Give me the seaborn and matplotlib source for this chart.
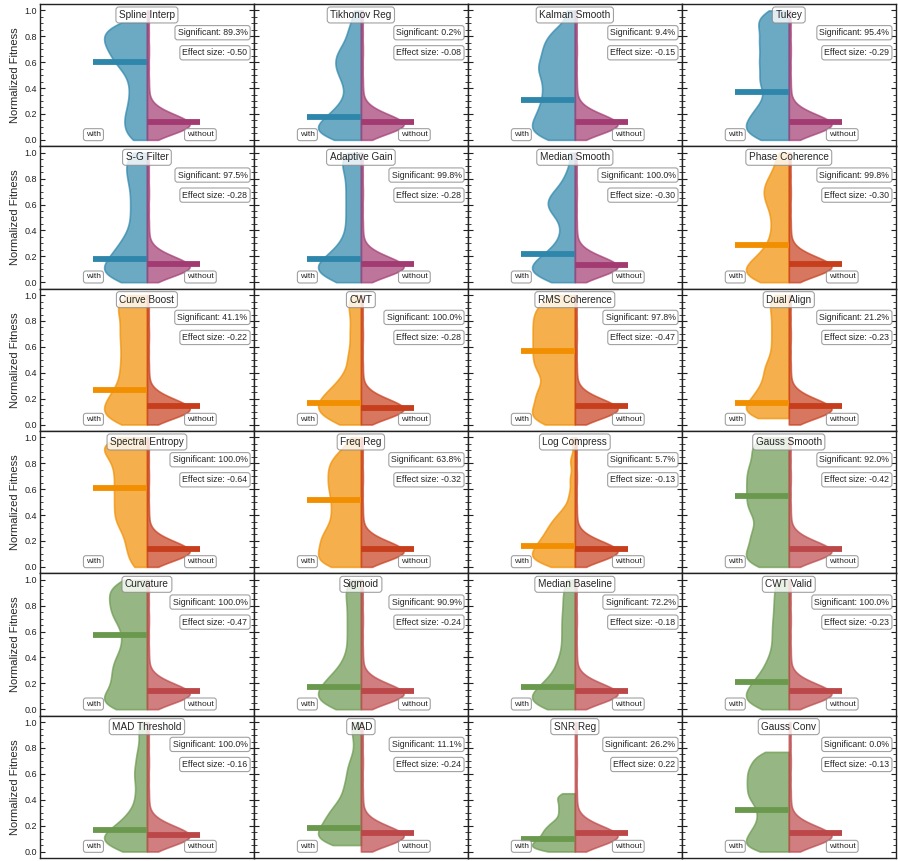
import numpy as np
import pandas as pd
import matplotlib
matplotlib.use("Agg")
import matplotlib.pyplot as plt
from matplotlib.ticker import AutoMinorLocator, MultipleLocator
import seaborn as sns

# ---------------------------------------------------------------- data
methods = [
    "Spline Interp", "Tikhonov Reg", "Kalman Smooth", "Tukey",
    "S-G Filter", "Adaptive Gain", "Median Smooth", "Phase Coherence",
    "Curve Boost", "CWT", "RMS Coherence", "Dual Align",
    "Spectral Entropy", "Freq Reg", "Log Compress", "Gauss Smooth",
    "Curvature", "Sigmoid", "Median Baseline", "CWT Valid",
    "MAD Threshold", "MAD", "SNR Reg", "Gauss Conv",
]
families = ["blue"] * 7 + ["orange"] * 8 + ["green"] * 9
significant = [89.3, 0.2, 9.4, 95.4,
               97.5, 99.8, 100.0, 99.8,
               41.1, 100.0, 97.8, 21.2,
               100.0, 63.8, 5.7, 92.0,
               100.0, 90.9, 72.2, 100.0,
               100.0, 11.1, 26.2, 0.0]
effect_size = [-0.50, -0.08, -0.15, -0.29,
               -0.28, -0.28, -0.30, -0.30,
               -0.22, -0.28, -0.47, -0.23,
               -0.64, -0.32, -0.13, -0.42,
               -0.47, -0.24, -0.18, -0.23,
               -0.16, -0.24, 0.22, -0.13]
with_medians = [0.60, 0.18, 0.31, 0.37,
                0.18, 0.18, 0.22, 0.29,
                0.27, 0.17, 0.57, 0.17,
                0.61, 0.52, 0.16, 0.55,
                0.57, 0.17, 0.17, 0.21,
                0.17, 0.18, 0.10, 0.32]
without_medians = [0.14, 0.14, 0.14, 0.14,
                   0.14, 0.14, 0.13, 0.14,
                   0.14, 0.13, 0.14, 0.14,
                   0.14, 0.14, 0.14, 0.14,
                   0.14, 0.14, 0.14, 0.14,
                   0.13, 0.14, 0.14, 0.14]

# normalized fitness of the runs that used each step
spline_interp = [0.00, 0.04, 0.08, 0.12, 0.16, 0.19, 0.24, 0.28, 0.33, 0.38,
                 0.43, 0.48, 0.52, 0.56, 0.59, 0.61, 0.64, 0.66, 0.69, 0.71,
                 0.73, 0.75, 0.77, 0.79, 0.81, 0.83, 0.85, 0.87, 0.89, 0.91]
tikhonov_reg = [0.00, 0.02, 0.035, 0.05, 0.065, 0.08, 0.095, 0.11, 0.13, 0.15,
                0.17, 0.19, 0.22, 0.25, 0.28, 0.33, 0.38, 0.43, 0.47, 0.51,
                0.54, 0.57, 0.60, 0.63, 0.66, 0.69, 0.73, 0.78, 0.84, 0.90, 1.00]
kalman_smooth = [0.00, 0.02, 0.045, 0.07, 0.09, 0.115, 0.14, 0.165, 0.19, 0.22,
                 0.25, 0.28, 0.31, 0.345, 0.38, 0.41, 0.445, 0.48, 0.51, 0.54,
                 0.565, 0.59, 0.625, 0.655, 0.69, 0.72, 0.755, 0.79,
                 0.83, 0.88, 1.00]
tukey = [0.00, 0.02, 0.04, 0.065, 0.085, 0.11, 0.135, 0.16, 0.185, 0.22,
         0.25, 0.28, 0.33, 0.38, 0.43, 0.455, 0.48, 0.53, 0.58, 0.605,
         0.63, 0.68, 0.73, 0.755, 0.78, 0.83, 0.88, 0.905, 0.93, 0.97, 1.00]
sg_filter = [0.00, 0.02, 0.04, 0.055, 0.07, 0.085, 0.10, 0.12, 0.14, 0.16,
             0.18, 0.20, 0.225, 0.25, 0.275, 0.305, 0.34, 0.375, 0.42, 0.47,
             0.52, 0.57, 0.62, 0.67, 0.72, 0.77, 0.81, 0.85, 0.89, 0.93,
             0.97, 1.00]
adaptive_gain = [0.00, 0.02, 0.04, 0.055, 0.07, 0.085, 0.10, 0.115, 0.13, 0.145,
                 0.16, 0.18, 0.20, 0.225, 0.25, 0.28, 0.32, 0.36, 0.41, 0.46,
                 0.51, 0.56, 0.61, 0.66, 0.71, 0.76, 0.81, 0.86, 0.90, 0.94,
                 0.97, 1.00]
median_smooth = [0.00, 0.02, 0.04, 0.055, 0.07, 0.085, 0.10, 0.115, 0.13, 0.145,
                 0.16, 0.18, 0.20, 0.225, 0.25, 0.28, 0.32, 0.37, 0.42, 0.47,
                 0.52, 0.545, 0.57, 0.595, 0.62, 0.645, 0.67, 0.695, 0.74, 0.79,
                 0.87, 1.00]
phase_coherence = [0.00, 0.015, 0.03, 0.045, 0.065, 0.085, 0.10, 0.12, 0.14, 0.16,
                   0.18, 0.21, 0.245, 0.28, 0.32, 0.37, 0.42, 0.47, 0.52, 0.57,
                   0.61, 0.645, 0.68, 0.71, 0.745, 0.78, 0.82, 0.87, 0.94, 1.00]
curve_boost = [0.00, 0.02, 0.04, 0.06, 0.08, 0.10, 0.12, 0.14, 0.16, 0.18,
               0.205, 0.23, 0.255, 0.28, 0.31, 0.345, 0.38, 0.41, 0.445, 0.48,
               0.515, 0.55, 0.585, 0.62, 0.655, 0.69, 0.72, 0.755, 0.79, 0.825,
               0.86, 0.89, 0.92, 0.95, 0.98, 1.00]
cwt = [0.00, 0.02, 0.04, 0.06, 0.075, 0.09, 0.105, 0.12, 0.135, 0.15,
       0.165, 0.18, 0.195, 0.21, 0.23, 0.25, 0.27, 0.29, 0.32, 0.35,
       0.38, 0.43, 0.48, 0.53, 0.58, 0.65, 0.71, 0.77, 0.84, 0.90,
       0.95, 1.00]
rms_coherence = [0.00, 0.025, 0.05, 0.075, 0.11, 0.145, 0.18, 0.22, 0.25, 0.28,
                 0.33, 0.38, 0.42, 0.45, 0.48, 0.52, 0.55, 0.58, 0.62, 0.65,
                 0.68, 0.72, 0.75, 0.78, 0.82, 0.85, 0.88, 0.92, 0.96, 1.00]
dual_align = [0.05, 0.062, 0.075, 0.088, 0.10, 0.12, 0.14, 0.16, 0.18, 0.205,
              0.23, 0.255, 0.28, 0.31, 0.35, 0.38, 0.42, 0.45, 0.48, 0.53,
              0.58, 0.63, 0.68, 0.73, 0.78, 0.83, 0.88, 0.93, 0.97, 1.00]
spectral_entropy = [0.00, 0.06, 0.12, 0.17, 0.22, 0.27, 0.31, 0.345, 0.38, 0.41,
                    0.445, 0.48, 0.51, 0.545, 0.58, 0.61, 0.645, 0.68, 0.71, 0.745,
                    0.78, 0.81, 0.84, 0.87, 0.895, 0.92, 0.94, 0.96, 0.98, 1.00]
freq_reg = [0.00, 0.015, 0.03, 0.05, 0.075, 0.10, 0.125, 0.15, 0.175, 0.20,
            0.225, 0.25, 0.275, 0.305, 0.34, 0.375, 0.41, 0.445, 0.48, 0.515,
            0.55, 0.585, 0.615, 0.645, 0.675, 0.71, 0.74, 0.77, 0.80, 0.835,
            0.87, 0.915, 1.00]
log_compress = [0.00, 0.015, 0.03, 0.045, 0.06, 0.07, 0.08, 0.09, 0.105, 0.12,
                0.135, 0.15, 0.165, 0.18, 0.195, 0.21, 0.23, 0.25, 0.27, 0.29,
                0.31, 0.335, 0.36, 0.385, 0.42, 0.47, 0.56, 0.68, 0.82, 1.00]
gauss_smooth = [0.00, 0.025, 0.05, 0.075, 0.11, 0.145, 0.18, 0.22, 0.255, 0.285,
                0.33, 0.38, 0.42, 0.45, 0.48, 0.52, 0.55, 0.58, 0.62, 0.65,
                0.68, 0.72, 0.75, 0.78, 0.82, 0.86, 0.90, 0.94, 0.97, 1.00]
curvature = [0.00, 0.02, 0.04, 0.06, 0.08, 0.11, 0.145, 0.18, 0.215, 0.25,
             0.285, 0.32, 0.355, 0.39, 0.43, 0.48, 0.53, 0.58, 0.63, 0.68,
             0.71, 0.745, 0.78, 0.81, 0.845, 0.88, 0.91, 0.94, 0.97, 1.00]
sigmoid = [0.00, 0.015, 0.03, 0.045, 0.06, 0.075, 0.09, 0.105, 0.12, 0.135,
           0.15, 0.165, 0.18, 0.20, 0.22, 0.24, 0.26, 0.28, 0.31, 0.345,
           0.38, 0.42, 0.47, 0.52, 0.57, 0.62, 0.67, 0.72, 0.77, 0.82,
           0.87, 0.91, 0.955, 1.00]
median_baseline = [0.00, 0.012, 0.025, 0.038, 0.05, 0.062, 0.075, 0.088, 0.10, 0.117,
                   0.133, 0.15, 0.167, 0.183, 0.20, 0.225, 0.25, 0.275, 0.31, 0.345,
                   0.38, 0.42, 0.47, 0.52, 0.57, 0.62, 0.67, 0.72, 0.77, 0.83,
                   0.88, 0.94, 1.00]
cwt_valid = [0.00, 0.016, 0.033, 0.05, 0.066, 0.083, 0.10, 0.12, 0.14, 0.16,
             0.18, 0.20, 0.225, 0.25, 0.275, 0.31, 0.345, 0.38, 0.42, 0.47,
             0.52, 0.57, 0.62, 0.67, 0.72, 0.78, 0.83, 0.89, 0.95, 1.00]
mad_threshold = [0.00, 0.015, 0.03, 0.045, 0.058, 0.07, 0.082, 0.094, 0.106, 0.118,
                 0.13, 0.143, 0.157, 0.172, 0.188, 0.21, 0.235, 0.26, 0.285, 0.32,
                 0.37, 0.42, 0.47, 0.53, 0.58, 0.62, 0.67, 0.73, 0.78, 0.86,
                 0.94, 1.00]
mad = [0.05, 0.063, 0.076, 0.089, 0.10, 0.117, 0.133, 0.15, 0.167, 0.183,
       0.20, 0.22, 0.24, 0.26, 0.28, 0.30, 0.325, 0.35, 0.375, 0.41,
       0.45, 0.49, 0.53, 0.58, 0.63, 0.68, 0.75, 0.85, 0.94, 1.00]
snr_reg = [0.00, 0.008, 0.017, 0.025, 0.033, 0.042, 0.05, 0.06, 0.07, 0.08,
           0.09, 0.10, 0.112, 0.125, 0.138, 0.15, 0.162, 0.175, 0.188, 0.205,
           0.22, 0.235, 0.26, 0.285, 0.31, 0.335, 0.36, 0.385, 0.41, 0.43, 0.45]
gauss_conv = [0.00, 0.02, 0.04, 0.06, 0.08, 0.11, 0.135, 0.16, 0.185, 0.22,
              0.255, 0.285, 0.32, 0.355, 0.385, 0.41, 0.435, 0.46, 0.485, 0.51,
              0.535, 0.56, 0.585, 0.61, 0.635, 0.66, 0.685, 0.72, 0.75, 0.77]

with_runs = [spline_interp, tikhonov_reg, kalman_smooth, tukey,
             sg_filter, adaptive_gain, median_smooth, phase_coherence,
             curve_boost, cwt, rms_coherence, dual_align,
             spectral_entropy, freq_reg, log_compress, gauss_smooth,
             curvature, sigmoid, median_baseline, cwt_valid,
             mad_threshold, mad, snr_reg, gauss_conv]

# normalized fitness of the runs without the step
without_runs = [0.00, 0.015, 0.027, 0.036, 0.043, 0.049,
                0.055, 0.06, 0.065, 0.07, 0.074, 0.078, 0.082, 0.086, 0.09, 0.094, 0.098,
                0.101, 0.104, 0.107, 0.11, 0.113, 0.116, 0.119, 0.122, 0.125, 0.128,
                0.131, 0.134, 0.137, 0.141, 0.145, 0.149,
                0.153, 0.157, 0.161, 0.165, 0.169, 0.173, 0.178, 0.183, 0.188, 0.193, 0.198,
                0.205, 0.213, 0.222, 0.232, 0.244, 0.26, 0.28,
                0.32, 0.39, 0.47, 0.56, 0.65, 0.73, 0.82, 0.91, 1.00]

palettes = {
    "blue": ("#2E86AB", "#A23B72"),
    "orange": ("#F18F01", "#C73E1D"),
    "green": ("#6A994E", "#BC4749"),
}

# ---------------------------------------------------------------- style
sns.set_style("ticks")
plt.rcParams["font.family"] = ["Liberation Sans", "DejaVu Sans"]
plt.rcParams.update({
    "axes.edgecolor": "#222222",
    "axes.linewidth": 1.0,
    "ytick.direction": "in",
    "ytick.major.size": 3.5,
    "ytick.minor.size": 2.0,
    "ytick.major.width": 0.8,
    "ytick.minor.width": 0.6,
    "ytick.color": "#222222",
    "ytick.labelsize": 6.5,
})

box = dict(boxstyle="round,pad=0.3", facecolor="white", edgecolor="#8a8a8a",
           linewidth=0.8, alpha=0.8)

fig, axes = plt.subplots(6, 4, figsize=(8.98, 8.61), dpi=100)
fig.subplots_adjust(left=0.0445, right=0.9975, top=0.9954, bottom=0.0035,
                    wspace=0, hspace=0)

for i, ax in enumerate(axes.flat):
    c_with, c_without = palettes[families[i]]
    runs = with_runs[i]
    df = pd.DataFrame({
        "step": ["x"] * (len(runs) + len(without_runs)),
        "fitness": list(runs) + list(without_runs),
        "group": ["with"] * len(runs) + ["without"] * len(without_runs),
    })
    sns.violinplot(data=df, x="step", y="fitness", hue="group",
                   hue_order=["with", "without"], split=True, inner=None,
                   cut=0, density_norm="width", common_norm=False,
                   bw_adjust=0.45, width=0.4, linewidth=1.2, saturation=1,
                   palette={"with": c_with, "without": c_without},
                   alpha=0.7, legend=False, ax=ax)
    for coll in ax.collections:
        coll.set_edgecolor(coll.get_facecolor()[:, :3])

    ax.plot([-0.25, 0], [with_medians[i]] * 2, color=c_with, lw=4.2,
            solid_capstyle="butt", zorder=4)
    ax.plot([0, 0.25], [without_medians[i]] * 2, color=c_without, lw=4.2,
            solid_capstyle="butt", zorder=4)

    ax.text(0, 0.965, methods[i], ha="center", va="center", fontsize=7.2,
            bbox=box, zorder=6)
    ax.text(0.97, 0.798, f"Significant: {significant[i]:.1f}%",
            transform=ax.transAxes, ha="right", va="center", fontsize=6.3,
            bbox=box, zorder=6)
    ax.text(0.97, 0.657, f"Effect size: {effect_size[i]:.2f}",
            transform=ax.transAxes, ha="right", va="center", fontsize=6.3,
            bbox=box, zorder=6)
    ax.text(-0.25, 0.04, "with", ha="center", va="center", fontsize=6,
            bbox=box, zorder=6)
    ax.text(0.25, 0.04, "without", ha="center", va="center", fontsize=6,
            bbox=box, zorder=6)

    ax.set_xlim(-0.5, 0.5)
    ax.set_ylim(-0.05, 1.05)
    ax.set_xticks([])
    ax.set_xlabel("")
    ax.yaxis.set_major_locator(MultipleLocator(0.2))
    ax.yaxis.set_minor_locator(AutoMinorLocator())
    ax.tick_params(axis="y", which="both", left=True, right=True,
                   labelleft=(i % 4 == 0), pad=2)
    if i % 4 == 0:
        ax.set_ylabel("Normalized Fitness", fontsize=8, labelpad=3)
    else:
        ax.set_ylabel("")
    for side in ["top", "right", "bottom", "left"]:
        ax.spines[side].set_visible(True)

fig.savefig("out.png", dpi=100)
